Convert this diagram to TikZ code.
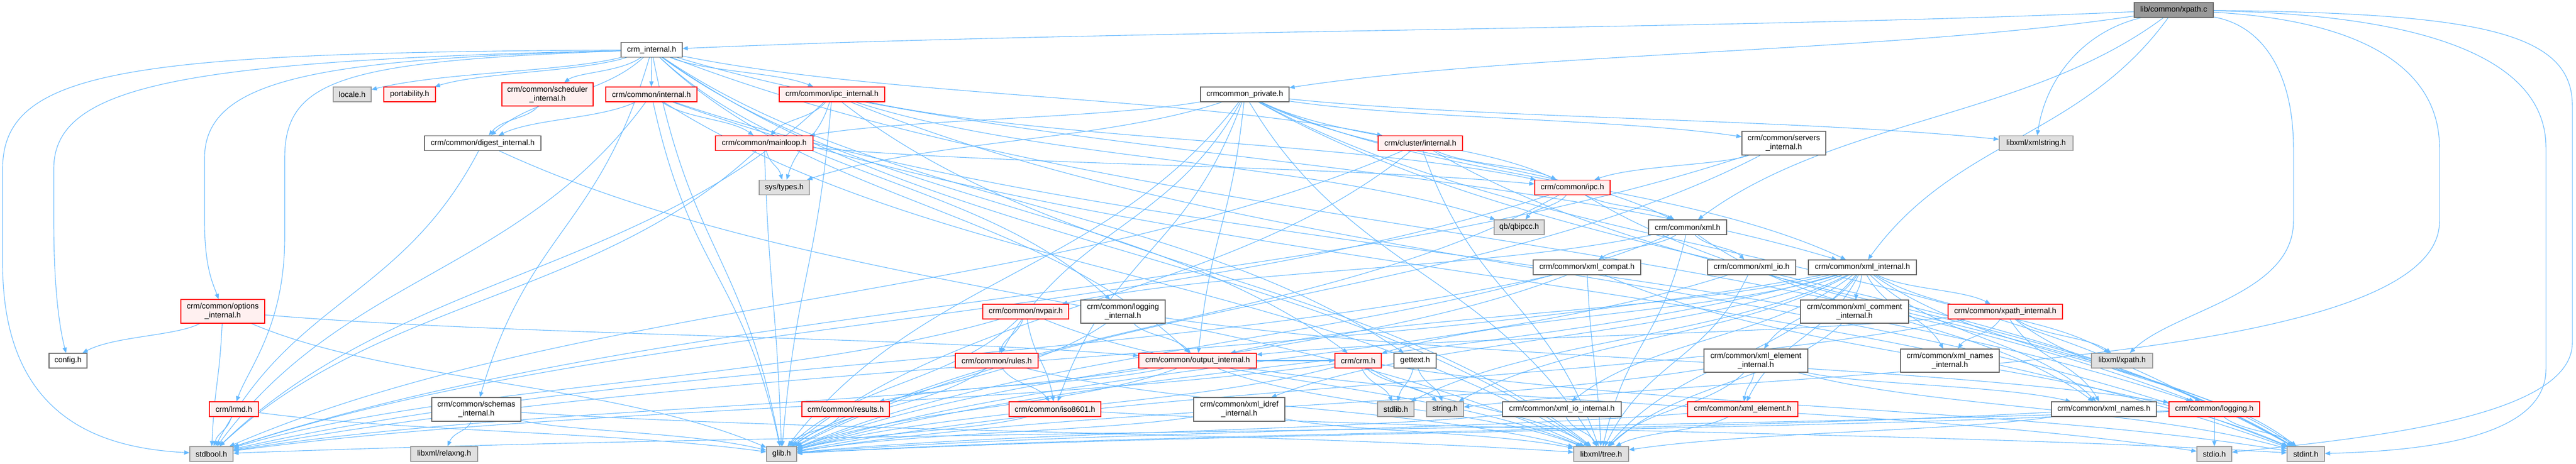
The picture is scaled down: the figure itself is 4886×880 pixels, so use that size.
\documentclass[tikz,border=0pt]{standalone}
\usepackage{fontspec}
\setmainfont{Liberation Sans}
\usetikzlibrary{calc,arrows.meta}
\pgfdeclarelayer{bg}
\pgfsetlayers{bg,main}
\definecolor{edgec}{HTML}{63B8FF}
\definecolor{redb}{HTML}{FF0000}
\definecolor{redf}{HTML}{FFF0F0}
\definecolor{grayf}{HTML}{E0E0E0}
\definecolor{grayb}{HTML}{999999}
\definecolor{darkb}{HTML}{666666}
\definecolor{rootf}{HTML}{999999}
\tikzset{
  nb/.style={draw, line width=1.2pt, inner sep=0pt, align=center,
    font=\fontsize{14.7}{17}\selectfont, minimum height=28pt, text=black},
  rn/.style={nb, draw=redb, fill=redf},
  wn/.style={nb, draw=darkb, fill=white},
  gn/.style={nb, draw=grayb, fill=grayf},
  rt/.style={nb, draw=darkb, fill=rootf},
  edgeln/.style={draw=edgec, line width=1.1pt, -{Triangle[length=10pt,width=8pt]}}
}
\newcommand\edg[2]{\draw[edgeln] let \p1=(#1), \p2=(#2) in (#1) .. controls (0.7*\x1+0.3*\x2, 0.5*\y1+0.5*\y2) and (0.3*\x1+0.7*\x2, 0.5*\y1+0.5*\y2) .. (#2);}
\begin{document}
\begin{tikzpicture}[x=1pt,y=-1pt]
\useasboundingbox (0,0) rectangle (4886,880);
% nodes
\node[rt, minimum width=150pt] (xpathc) at (4123,19) {lib/common/xpath.c};
\node[wn, minimum width=116pt] (crmint) at (1236,94.5) {crm\_internal.h};
\node[gn, minimum width=72pt] (locale) at (668,179) {locale.h};
\node[rn, minimum width=98pt] (port) at (777,179) {portability.h};
\node[rn, minimum width=173pt, minimum height=44pt] (sched) at (1038.5,179) {crm/common/scheduler\\\_internal.h};
\node[rn, minimum width=173pt] (cint) at (1235.5,179) {crm/common/internal.h};
\node[rn, minimum width=200pt] (ipcint) at (1578,179) {crm/common/ipc\_internal.h};
\node[wn, minimum width=168pt] (priv) at (2361,179) {crmcommon\_private.h};
\node[wn, minimum width=221pt] (digest) at (915.5,271.5) {crm/common/digest\_internal.h};
\node[rn, minimum width=185pt] (mainloop) at (1449.5,271.5) {crm/common/mainloop.h};
\node[rn, minimum width=160pt] (cluster) at (2694,271.5) {crm/cluster/internal.h};
\node[wn, minimum width=159pt, minimum height=45pt] (servers) at (3383.5,271.5) {crm/common/servers\\\_internal.h};
\node[gn, minimum width=140pt] (xmlstring) at (3862,271.5) {libxml/xmlstring.h};
\node[gn, minimum width=95pt] (systypes) at (1487.5,355.5) {sys/types.h};
\node[rn, minimum width=143pt] (ipc) at (2982.5,355.5) {crm/common/ipc.h};
\node[gn, minimum width=95pt] (qbipcc) at (2881.5,431) {qb/qbipcc.h};
\node[wn, minimum width=148pt] (xmlh) at (3201,431) {crm/common/xml.h};
\node[wn, minimum width=204pt] (xmlcompat) at (3010,507) {crm/common/xml\_compat.h};
\node[wn, minimum width=167pt] (xmlio) at (3322.5,507) {crm/common/xml\_io.h};
\node[wn, minimum width=205pt] (xmlint) at (3532.5,507) {crm/common/xml\_internal.h};
\node[rn, minimum width=159pt, minimum height=45pt] (options) at (422.5,590.5) {crm/common/options\\\_internal.h};
\node[rn, minimum width=163pt] (nvpair) at (1945.5,591) {crm/common/nvpair.h};
\node[wn, minimum width=160pt, minimum height=44pt] (logint) at (2130,591) {crm/common/logging\\\_internal.h};
\node[wn, minimum width=205pt, minimum height=44pt] (comment) at (3517.5,591) {crm/common/xml\_comment\\\_internal.h};
\node[rn, minimum width=217pt] (xpathint) at (3803.5,591) {crm/common/xpath\_internal.h};
\node[wn, minimum width=72pt] (config) at (129,684) {config.h};
\node[rn, minimum width=157pt] (rules) at (1890.5,684) {crm/common/rules.h};
\node[rn, minimum width=223pt] (output) at (2271.5,684) {crm/common/output\_internal.h};
\node[rn, minimum width=88pt] (crmh) at (2576,684) {crm/crm.h};
\node[wn, minimum width=80pt] (gettext) at (2684,684) {gettext.h};
\node[wn, minimum width=197pt, minimum height=44pt] (eleint) at (3330.5,684) {crm/common/xml\_element\\\_internal.h};
\node[wn, minimum width=187pt, minimum height=44pt] (namesint) at (3698.5,684) {crm/common/xml\_names\\\_internal.h};
\node[gn, minimum width=116pt] (xpathh) at (4025,684) {libxml/xpath.h};
\node[rn, minimum width=93pt] (lrmd) at (443.5,776) {crm/lrmd.h};
\node[wn, minimum width=169pt, minimum height=45pt] (schemas) at (903.5,776.5) {crm/common/schemas\\\_internal.h};
\node[rn, minimum width=166pt] (results) at (1604,776) {crm/common/results.h};
\node[rn, minimum width=174pt] (iso) at (2001,776) {crm/common/iso8601.h};
\node[wn, minimum width=173pt, minimum height=45pt] (idref) at (2350.5,776.5) {crm/common/xml\_idref\\\_internal.h};
\node[gn, minimum width=69pt] (stdlib) at (2647.5,776) {stdlib.h};
\node[gn, minimum width=70pt] (string) at (2741,776) {string.h};
\node[wn, minimum width=225pt] (xmliointernal) at (2962.5,776) {crm/common/xml\_io\_internal.h};
\node[rn, minimum width=209pt] (element) at (3305.5,776) {crm/common/xml\_element.h};
\node[wn, minimum width=199pt] (names) at (3990.5,776) {crm/common/xml\_names.h};
\node[rn, minimum width=172pt] (logging) at (4200,776) {crm/common/logging.h};
\node[gn, minimum width=82pt] (stdbool) at (401,861) {stdbool.h};
\node[gn, minimum width=127pt] (relaxng) at (842.5,861) {libxml/relaxng.h};
\node[gn, minimum width=57pt] (glib) at (1482.5,861) {glib.h};
\node[gn, minimum width=104pt] (tree) at (3037,861) {libxml/tree.h};
\node[gn, minimum width=66pt] (stdio) at (4200,861) {stdio.h};
\node[gn, minimum width=71pt] (stdint) at (4373.5,861) {stdint.h};
% edges
\begin{pgfonlayer}{bg}
% routed edges from the root
\draw[edgeln] (xpathc) .. controls (4700,25) and (4879,60) .. (4879,200) -- (4879,650) .. controls (4879,790) and (4500,830) .. (stdio);
\draw[edgeln] (xpathc) .. controls (4600,28) and (4829,110) .. (4829,280) -- (4829,700) .. controls (4829,830) and (4600,855) .. (stdint);
\draw[edgeln] (xpathc) .. controls (4500,40) and (4627,140) .. (4627,280) -- (4627,420) .. controls (4627,700) and (3400,700) .. (string);
\draw[edgeln] (xpathc) .. controls (4300,50) and (4350,150) .. (4350,280) -- (4350,420) .. controls (4350,560) and (4120,590) .. (xpathh);
\draw[edgeln] (xpathc) .. controls (3950,60) and (3880,150) .. (xmlstring);
\edg{xpathc}{crmint}\edg{xpathc}{priv}\edg{xpathc}{xmlh}\edg{xpathc}{xmlint}
% routed edges from crm_internal.h
\draw[edgeln] (crmint) .. controls (250,100) and (5,130) .. (5,320) -- (5,500) .. controls (5,800) and (200,850) .. (stdbool);
\draw[edgeln] (crmint) .. controls (350,115) and (102,160) .. (102,320) -- (102,420) .. controls (102,560) and (115,630) .. (config);
\draw[edgeln] (crmint) .. controls (600,112) and (388,150) .. (388,300) -- (388,420) .. controls (388,510) and (405,540) .. (options);
\draw[edgeln] (crmint) .. controls (650,116) and (540,150) .. (540,300) -- (540,450) .. controls (540,620) and (470,700) .. (lrmd);
\edg{crmint}{locale}\edg{crmint}{port}\edg{crmint}{sched}\edg{crmint}{cint}\edg{crmint}{ipcint}
\edg{crmint}{digest}
\edg{crmint}{glib}\edg{crmint}{tree}\edg{crmint}{gettext}\edg{crmint}{crmh}\edg{crmint}{logging}
\edg{crmint}{logint}\edg{crmint}{output}\edg{crmint}{xmlint}\edg{crmint}{schemas}\edg{crmint}{cluster}
\edg{sched}{digest}
\edg{cint}{digest}\edg{cint}{mainloop}\edg{cint}{stdbool}\edg{cint}{glib}\edg{cint}{tree}\edg{cint}{logging}\edg{cint}{stdint}
\edg{ipcint}{mainloop}\edg{ipcint}{systypes}\edg{ipcint}{glib}\edg{ipcint}{stdbool}\edg{ipcint}{tree}
\edg{ipcint}{ipc}\edg{ipcint}{qbipcc}\edg{ipcint}{stdint}
\edg{priv}{mainloop}\edg{priv}{systypes}\edg{priv}{ipc}\edg{priv}{glib}\edg{priv}{tree}\edg{priv}{xmlstring}
\edg{priv}{stdint}\edg{priv}{output}\edg{priv}{xmlh}\edg{priv}{xmlint}\edg{priv}{servers}\edg{priv}{iso}
\edg{priv}{logging}\edg{priv}{rules}
\edg{digest}{stdbool}\edg{digest}{tree}
\edg{mainloop}{systypes}\edg{mainloop}{ipc}\edg{mainloop}{glib}\edg{mainloop}{stdbool}
\edg{cluster}{ipc}\edg{cluster}{stdbool}\edg{cluster}{glib}\edg{cluster}{tree}\edg{cluster}{stdint}
\edg{servers}{ipc}\edg{servers}{glib}\edg{servers}{stdbool}
\edg{ipc}{qbipcc}\edg{ipc}{xmlh}\edg{ipc}{stdint}\edg{ipc}{glib}\edg{ipc}{stdbool}
\edg{xmlh}{nvpair}\edg{xmlh}{xmlcompat}\edg{xmlh}{xmlio}\edg{xmlh}{names}\edg{xmlh}{tree}\edg{xmlh}{glib}
\edg{xmlcompat}{glib}\edg{xmlcompat}{stdbool}\edg{xmlcompat}{tree}\edg{xmlcompat}{stdint}
\edg{xmlio}{tree}\edg{xmlio}{glib}
\edg{xmlint}{comment}\edg{xmlint}{xpathint}\edg{xmlint}{eleint}\edg{xmlint}{namesint}\edg{xmlint}{xpathh}
\edg{xmlint}{idref}\edg{xmlint}{xmliointernal}\edg{xmlint}{element}\edg{xmlint}{names}\edg{xmlint}{crmh}
\edg{xmlint}{output}\edg{xmlint}{stdbool}\edg{xmlint}{glib}\edg{xmlint}{tree}\edg{xmlint}{stdint}
\edg{xmlint}{string}\edg{xmlint}{stdlib}
\edg{comment}{tree}
\edg{xpathint}{namesint}\edg{xpathint}{xpathh}\edg{xpathint}{names}\edg{xpathint}{output}
\edg{xpathint}{glib}\edg{xpathint}{stdint}
\edg{eleint}{element}\edg{eleint}{names}\edg{eleint}{glib}\edg{eleint}{tree}\edg{eleint}{stdint}
\edg{idref}{glib}\edg{idref}{tree}
\edg{xmliointernal}{tree}\edg{xmliointernal}{glib}
\edg{element}{glib}\edg{element}{tree}
\edg{names}{glib}\edg{names}{tree}
\edg{logging}{stdio}\edg{logging}{stdint}\edg{logging}{glib}\edg{logging}{stdbool}
\edg{crmh}{stdlib}\edg{crmh}{string}\edg{crmh}{tree}\edg{crmh}{glib}\edg{crmh}{stdbool}\edg{crmh}{stdint}
\edg{gettext}{stdlib}\edg{gettext}{string}
\edg{output}{results}\edg{output}{crmh}\edg{output}{glib}\edg{output}{stdbool}\edg{output}{tree}\edg{output}{stdio}
\edg{logint}{output}\edg{logint}{glib}\edg{logint}{logging}
\edg{nvpair}{rules}\edg{nvpair}{iso}\edg{nvpair}{stdbool}\edg{nvpair}{tree}\edg{nvpair}{glib}
\edg{rules}{iso}\edg{rules}{glib}\edg{rules}{tree}
\edg{iso}{glib}\edg{iso}{stdint}
\edg{results}{glib}
\edg{options}{config}\edg{options}{stdbool}\edg{options}{glib}\edg{options}{output}
\edg{lrmd}{stdbool}\edg{lrmd}{glib}
\edg{schemas}{relaxng}\edg{schemas}{glib}\edg{schemas}{tree}
\end{pgfonlayer}
\end{tikzpicture}
\end{document}
